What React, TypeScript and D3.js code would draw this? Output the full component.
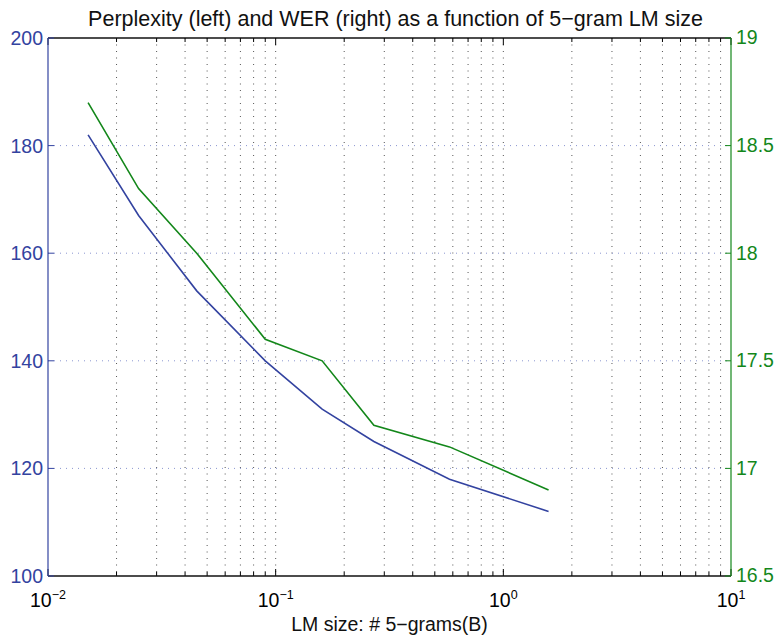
import React from 'react'
import * as d3 from 'd3'

// LM size in billions of 5-grams
const sizes = [0.015, 0.025, 0.045, 0.09, 0.16, 0.27, 0.58, 1.58]
const perplexity = [182, 167, 153, 140, 131, 125, 118, 112]
const wer = [18.7, 18.3, 18.0, 17.6, 17.5, 17.2, 17.1, 16.9]

const leftTicks = [100, 120, 140, 160, 180, 200]
const rightTicks = [16.5, 17, 17.5, 18, 18.5, 19]
const xExponents = [-2, -1, 0, 1]

const title = 'Perplexity (left) and WER (right) as a function of 5\u2212gram LM size'
const xLabel = 'LM size: # 5\u2212grams(B)'

const BLUE = '#3343a0'
const GREEN = '#13871a'

export default function App() {
  const width = 780
  const height = 639
  const m = { left: 48, right: 731, top: 38, bottom: 576 }
  const font = 'Liberation Sans, Arial, Helvetica, sans-serif'

  const x = d3.scaleLog().domain([0.01, 10]).range([m.left, m.right])
  const yL = d3.scaleLinear().domain([100, 200]).range([m.bottom, m.top])
  const yR = d3.scaleLinear().domain([16.5, 19]).range([m.bottom, m.top])

  // all log ticks incl. minor ones
  const minor = x.ticks()
  const major = xExponents.map(e => Math.pow(10, e))

  const lineL = d3.line<number>().x((d, i) => x(sizes[i])).y(d => yL(d))
  const lineR = d3.line<number>().x((d, i) => x(sizes[i])).y(d => yR(d))

  return (
    <svg width={width} height={height} style={{ position: 'absolute', left: 0, top: 0 }} fontFamily={font}>
      <rect width={width} height={height} fill="#fff" />

      {/* vertical grid */}
      {minor.map((t, i) => {
        if (t <= 0.01 || t >= 10) return null
        return (
          <line key={'vg' + i} x1={x(t)} x2={x(t)} y1={m.top} y2={m.bottom}
            stroke="#555" strokeWidth={1} strokeDasharray="1,5.5" />
        )
      })}
      {/* horizontal grid */}
      {leftTicks.slice(1, -1).map(t => (
        <line key={'hg' + t} x1={m.left} x2={m.right} y1={yL(t)} y2={yL(t)}
          stroke="#8a96d0" strokeWidth={1} strokeDasharray="1,5" />
      ))}

      {/* x ticks top & bottom */}
      {minor.map((t, i) => {
        const len = major.includes(t) ? 7 : 4
        return (
          <g key={'xt' + i}>
            <line x1={x(t)} x2={x(t)} y1={m.bottom} y2={m.bottom - len} stroke="#000" />
            <line x1={x(t)} x2={x(t)} y1={m.top} y2={m.top + len} stroke="#000" />
          </g>
        )
      })}

      {/* frame */}
      <line x1={m.left} x2={m.right} y1={m.top} y2={m.top} stroke="#111" strokeWidth={1.5} />
      <line x1={m.left} x2={m.right} y1={m.bottom} y2={m.bottom} stroke="#111" strokeWidth={1.5} />
      <line x1={m.left} x2={m.left} y1={m.top} y2={m.bottom} stroke={BLUE} strokeWidth={1.2} />
      <line x1={m.right} x2={m.right} y1={m.top} y2={m.bottom} stroke={GREEN} strokeWidth={1.2} />

      {/* left axis */}
      {leftTicks.map(t => (
        <g key={'lt' + t}>
          <line x1={m.left} x2={m.left + 6} y1={yL(t)} y2={yL(t)} stroke={BLUE} />
          <text x={m.left - 5} y={yL(t)} dy="0.36em" textAnchor="end" fontSize={19.5} fill={BLUE}>{t}</text>
        </g>
      ))}
      {/* right axis */}
      {rightTicks.map(t => (
        <g key={'rt' + t}>
          <line x1={m.right} x2={m.right - 6} y1={yR(t)} y2={yR(t)} stroke={GREEN} />
          <text x={m.right + 5} y={yR(t)} dy="0.33em" textAnchor="start" fontSize={19.5} fill={GREEN}>{t}</text>
        </g>
      ))}

      {/* x tick labels */}
      {xExponents.map(e => (
        <text key={'xl' + e} x={x(Math.pow(10, e))} y={607} textAnchor="middle" fontSize={19.5} fill="#000">
          10<tspan fontSize={12.5} dy={-8}>{e < 0 ? '\u2212' + Math.abs(e) : e}</tspan>
        </text>
      ))}

      {/* series */}
      <path d={lineL(perplexity) || ''} fill="none" stroke={BLUE} strokeWidth={1.6} />
      <path d={lineR(wer) || ''} fill="none" stroke={GREEN} strokeWidth={1.6} />

      <text x={(m.left + m.right) / 2 + 6} y={26} textAnchor="middle" fontSize={21.5} fill="#111">{title}</text>
      <text x={(m.left + m.right) / 2} y={631} textAnchor="middle" fontSize={19.5} fill="#111">{xLabel}</text>
    </svg>
  )
}
